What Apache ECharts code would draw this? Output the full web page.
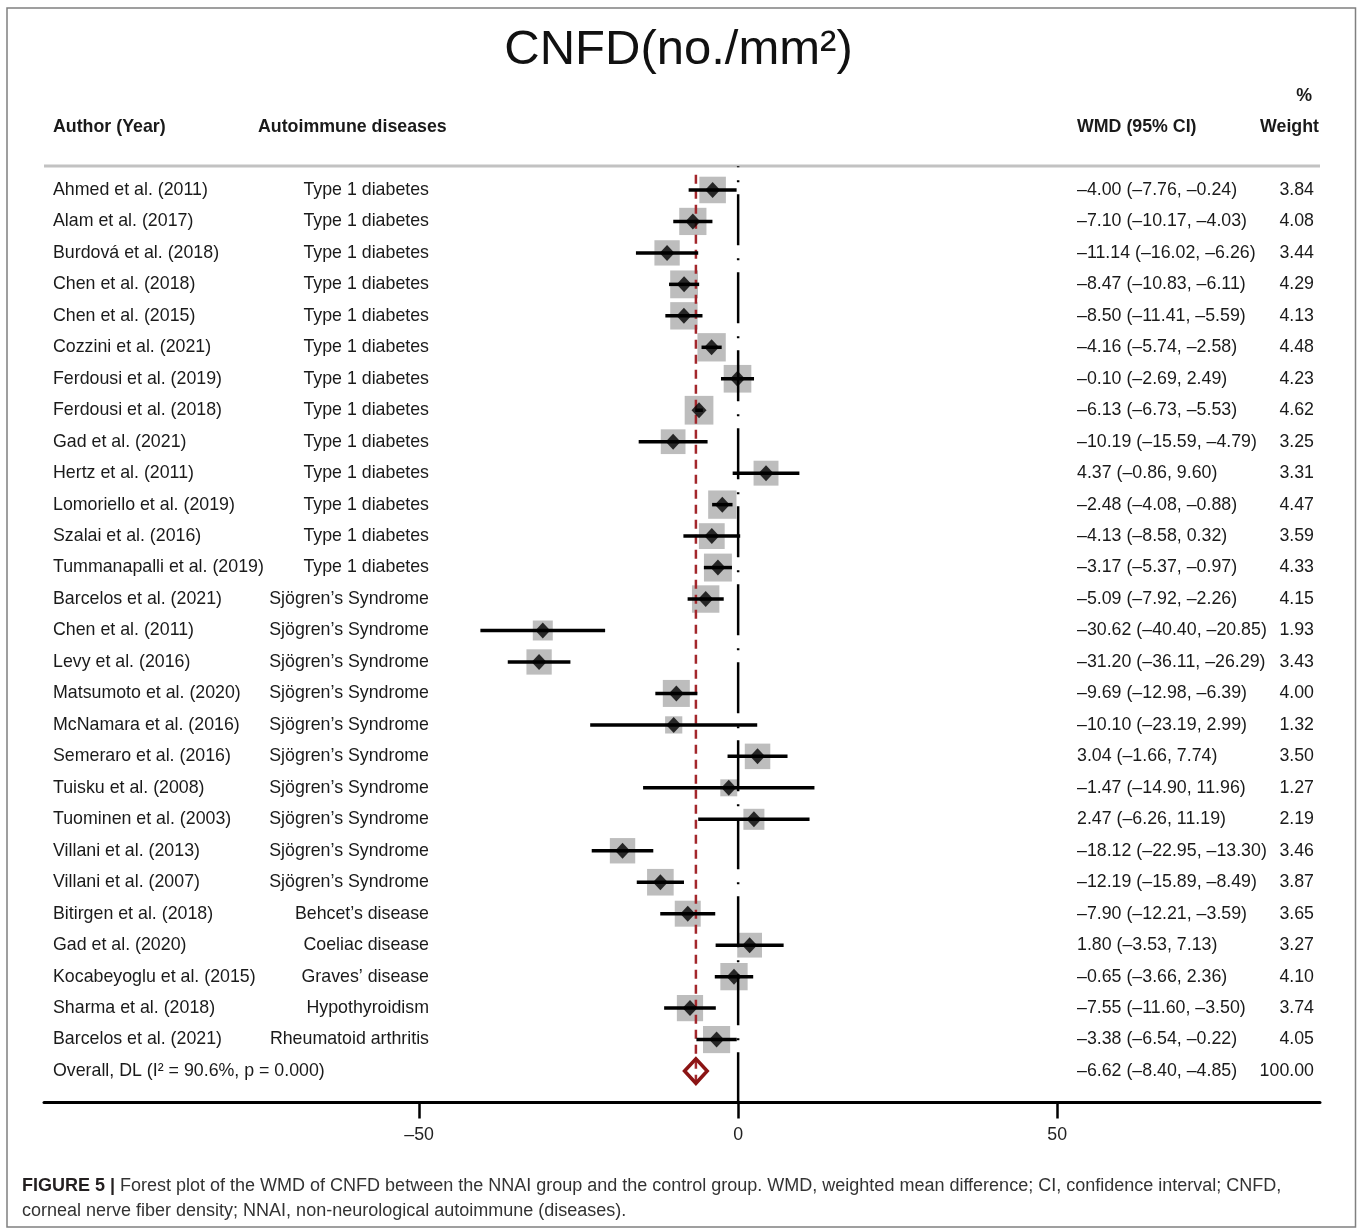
<!DOCTYPE html>
<html>
<head>
<meta charset="utf-8">
<script src="https://cdn.jsdelivr.net/npm/echarts@6/dist/echarts.min.js"></script>
<style>
html,body{margin:0;padding:0;background:#fff;}
#chart{width:1357px;height:1230px;}
</style>
</head>
<body>
<div id="chart"></div>
<script>
// ---------- DATA ----------
const authors = [
  'Ahmed et al. (2011)','Alam et al. (2017)','Burdová et al. (2018)','Chen et al. (2018)',
  'Chen et al. (2015)','Cozzini et al. (2021)','Ferdousi et al. (2019)','Ferdousi et al. (2018)',
  'Gad et al. (2021)','Hertz et al. (2011)','Lomoriello et al. (2019)','Szalai et al. (2016)',
  'Tummanapalli et al. (2019)','Barcelos et al. (2021)','Chen et al. (2011)','Levy et al. (2016)',
  'Matsumoto et al. (2020)','McNamara et al. (2016)','Semeraro et al. (2016)','Tuisku et al. (2008)',
  'Tuominen et al. (2003)','Villani et al. (2013)','Villani et al. (2007)','Bitirgen et al. (2018)',
  'Gad et al. (2020)','Kocabeyoglu et al. (2015)','Sharma et al. (2018)','Barcelos et al. (2021)'
];
const diseases = [
  'Type 1 diabetes','Type 1 diabetes','Type 1 diabetes','Type 1 diabetes',
  'Type 1 diabetes','Type 1 diabetes','Type 1 diabetes','Type 1 diabetes',
  'Type 1 diabetes','Type 1 diabetes','Type 1 diabetes','Type 1 diabetes',
  'Type 1 diabetes','Sjögren’s Syndrome','Sjögren’s Syndrome','Sjögren’s Syndrome',
  'Sjögren’s Syndrome','Sjögren’s Syndrome','Sjögren’s Syndrome','Sjögren’s Syndrome',
  'Sjögren’s Syndrome','Sjögren’s Syndrome','Sjögren’s Syndrome','Behcet’s disease',
  'Coeliac disease','Graves’ disease','Hypothyroidism','Rheumatoid arthritis'
];
const wmd   = [-4.00,-7.10,-11.14,-8.47,-8.50,-4.16,-0.10,-6.13,-10.19,4.37,-2.48,-4.13,-3.17,-5.09,-30.62,-31.20,-9.69,-10.10,3.04,-1.47,2.47,-18.12,-12.19,-7.90,1.80,-0.65,-7.55,-3.38];
const ciLow = [-7.76,-10.17,-16.02,-10.83,-11.41,-5.74,-2.69,-6.73,-15.59,-0.86,-4.08,-8.58,-5.37,-7.92,-40.40,-36.11,-12.98,-23.19,-1.66,-14.90,-6.26,-22.95,-15.89,-12.21,-3.53,-3.66,-11.60,-6.54];
const ciHigh= [-0.24,-4.03,-6.26,-6.11,-5.59,-2.58,2.49,-5.53,-4.79,9.60,-0.88,0.32,-0.97,-2.26,-20.85,-26.29,-6.39,2.99,7.74,11.96,11.19,-13.30,-8.49,-3.59,7.13,2.36,-3.50,-0.22];
const weights=[3.84,4.08,3.44,4.29,4.13,4.48,4.23,4.62,3.25,3.31,4.47,3.59,4.33,4.15,1.93,3.43,4.00,1.32,3.50,1.27,2.19,3.46,3.87,3.65,3.27,4.10,3.74,4.05];
const overallLabel = 'Overall, DL (I² = 90.6%, p = 0.000)';
const overallWmd = -6.62, overallLow = -8.40, overallHigh = -4.85, overallWeight = 100.00;
const xTicks = [-50, 0, 50];
const titleText = 'CNFD(no./mm²)';
const headers = {author:'Author (Year)', disease:'Autoimmune diseases', wmd:'WMD (95% CI)', pct:'%', weight:'Weight'};
const captionBold = 'FIGURE 5 |';
const captionLine1 = ' Forest plot of the WMD of CNFD between the NNAI group and the control group. WMD, weighted mean difference; CI, confidence interval; CNFD,';
const captionLine2 = 'corneal nerve fiber density; NNAI, non-neurological autoimmune (diseases).';

// ---------- helpers ----------
const FONT = '"Liberation Sans", Arial, Helvetica, sans-serif';
const FS = 17.8;
const fmt = v => (v < 0 ? '–' : '') + Math.abs(v).toFixed(2);
const nRows = authors.length;           // 28 studies
const overallRow = nRows;               // row 28

const rowsData = authors.map((a, i) => [wmd[i], i, ciLow[i], ciHigh[i], weights[i]]);
const textRows = authors.map((a, i) => ({
  value: [0, i],
  author: a, disease: diseases[i],
  ci: fmt(wmd[i]) + ' (' + fmt(ciLow[i]) + ', ' + fmt(ciHigh[i]) + ')',
  w: weights[i].toFixed(2)
}));
textRows.push({
  value: [0, overallRow], author: overallLabel, disease: '',
  ci: fmt(overallWmd) + ' (' + fmt(overallLow) + ', ' + fmt(overallHigh) + ')',
  w: overallWeight.toFixed(2)
});

const chart = echarts.init(document.getElementById('chart'), null, {renderer: 'canvas'});

const hdr = (text, x, y, align) => ({
  type: 'text', x: x, y: y,
  style: {text: text, fontFamily: FONT, fontSize: FS, fontWeight: 'bold', fill: '#1a1a1a', verticalAlign: 'middle', align: align}
});

const option = {
  animation: false,
  backgroundColor: '#fff',
  title: {
    text: titleText, left: 'center', top: 21,
    textStyle: {fontFamily: FONT, fontSize: 49, fontWeight: 'normal', color: '#111'}
  },
  grid: {left: 44, right: 37, top: 158.5, bottom: 127.5, containLabel: false, outerBoundsMode: 'none'},
  xAxis: {
    type: 'value', min: -108.8, max: 91.2,
    splitLine: {show: false},
    axisLine: {show: true, onZero: false, lineStyle: {color: '#000', width: 3}},
    axisTick: {show: true, customValues: xTicks, length: 16, lineStyle: {color: '#000', width: 2.5}},
    axisLabel: {
      show: true, customValues: xTicks, margin: 24,
      fontFamily: FONT, fontSize: FS, color: '#222',
      formatter: v => (v < 0 ? '–' + Math.abs(v) : String(v))
    }
  },
  yAxis: {type: 'value', min: -1, max: 29, inverse: true, show: false},
  series: [
    // weight boxes
    {
      type: 'scatter', symbol: 'rect', z: 1,
      data: rowsData.map(r => [r[0], r[1], r[4]]),
      symbolSize: v => 4 + 11.5 * Math.sqrt(v[2]),
      itemStyle: {color: '#bdbdbd', opacity: 1},
      silent: true
    },
    // null line at 0
    {
      type: 'line', z: 2, symbol: 'none', silent: true,
      data: [[0, -0.75], [0, 29]],
      lineStyle: {color: '#000', width: 2.5, type: [51, 13, 2, 12], dashOffset: 50}
    },
    // overall effect dashed red line
    {
      type: 'line', z: 2, symbol: 'none', silent: true,
      data: [[overallWmd, -0.48], [overallWmd, 28.35]],
      lineStyle: {color: '#a3272c', width: 2.5, type: [9, 6]}
    },
    // CI lines
    {
      type: 'custom', z: 3, silent: true,
      data: rowsData,
      encode: {x: 0, y: 1},
      renderItem: (params, api) => {
        const i = api.value(1);
        const p1 = api.coord([api.value(2), i]);
        const p2 = api.coord([api.value(3), i]);
        return {
          type: 'line',
          shape: {x1: p1[0], y1: p1[1], x2: p2[0], y2: p2[1]},
          style: {stroke: '#000', lineWidth: 3.5}
        };
      }
    },
    // point estimates
    {
      type: 'scatter', symbol: 'diamond', z: 4, silent: true,
      data: rowsData.map(r => [r[0], r[1]]),
      symbolSize: [15, 16],
      itemStyle: {color: '#000'}
    },
    // overall diamond
    {
      type: 'custom', z: 4, silent: true,
      data: [[overallWmd, overallRow, overallLow, overallHigh]],
      encode: {x: 0, y: 1},
      renderItem: (params, api) => {
        const r = api.value(1), m = api.value(0);
        const a = api.coord([api.value(2), r]);
        const b = api.coord([m, r - 0.39]);
        const c = api.coord([api.value(3), r]);
        const d = api.coord([m, r + 0.39]);
        return {
          type: 'polygon',
          shape: {points: [a, b, c, d]},
          style: {fill: 'none', stroke: '#8b1414', lineWidth: 3.5, lineJoin: 'miter'}
        };
      }
    },
    // text columns
    {
      type: 'custom', z: 5, silent: true,
      data: textRows,
      encode: {x: 0, y: 1},
      renderItem: (params, api) => {
        const item = textRows[params.dataIndex];
        const y = api.coord([0, api.value(1)])[1];
        const mk = (text, x, align) => ({
          type: 'text',
          style: {text: text, x: x, y: y, align: align, verticalAlign: 'middle',
                  fontFamily: FONT, fontSize: FS, fill: '#1a1a1a'}
        });
        return {
          type: 'group',
          children: [
            mk(item.author, 53, 'left'),
            mk(item.disease, 429, 'right'),
            mk(item.ci, 1077, 'left'),
            mk(item.w, 1314, 'right')
          ]
        };
      }
    }
  ],
  graphic: [
    {type: 'rect', shape: {x: 7, y: 8, width: 1348.5, height: 1219}, style: {fill: 'none', stroke: '#808080', lineWidth: 1.5}, z: 0, silent: true},
    {type: 'line', shape: {x1: 44, y1: 166, x2: 1320, y2: 166}, style: {stroke: '#c2c2c2', lineWidth: 3}, silent: true},
    hdr(headers.author, 53, 127, 'left'),
    hdr(headers.disease, 258, 127, 'left'),
    hdr(headers.wmd, 1077, 127, 'left'),
    hdr(headers.pct, 1312, 96, 'right'),
    hdr(headers.weight, 1319, 127, 'right'),
    {type: 'text', x: 22, y: 1186, style: {
      text: '{b|' + captionBold + '}{n|' + captionLine1 + '}',
      verticalAlign: 'middle', align: 'left',
      rich: {
        b: {fontFamily: FONT, fontSize: 18, fontWeight: 'bold', fill: '#231f20'},
        n: {fontFamily: FONT, fontSize: 18, fill: '#333'}
      }
    }},
    {type: 'text', x: 22, y: 1211, style: {text: captionLine2, fontFamily: FONT, fontSize: 18, fill: '#333', verticalAlign: 'middle', align: 'left'}}
  ]
};
chart.setOption(option);
</script>
</body>
</html>
